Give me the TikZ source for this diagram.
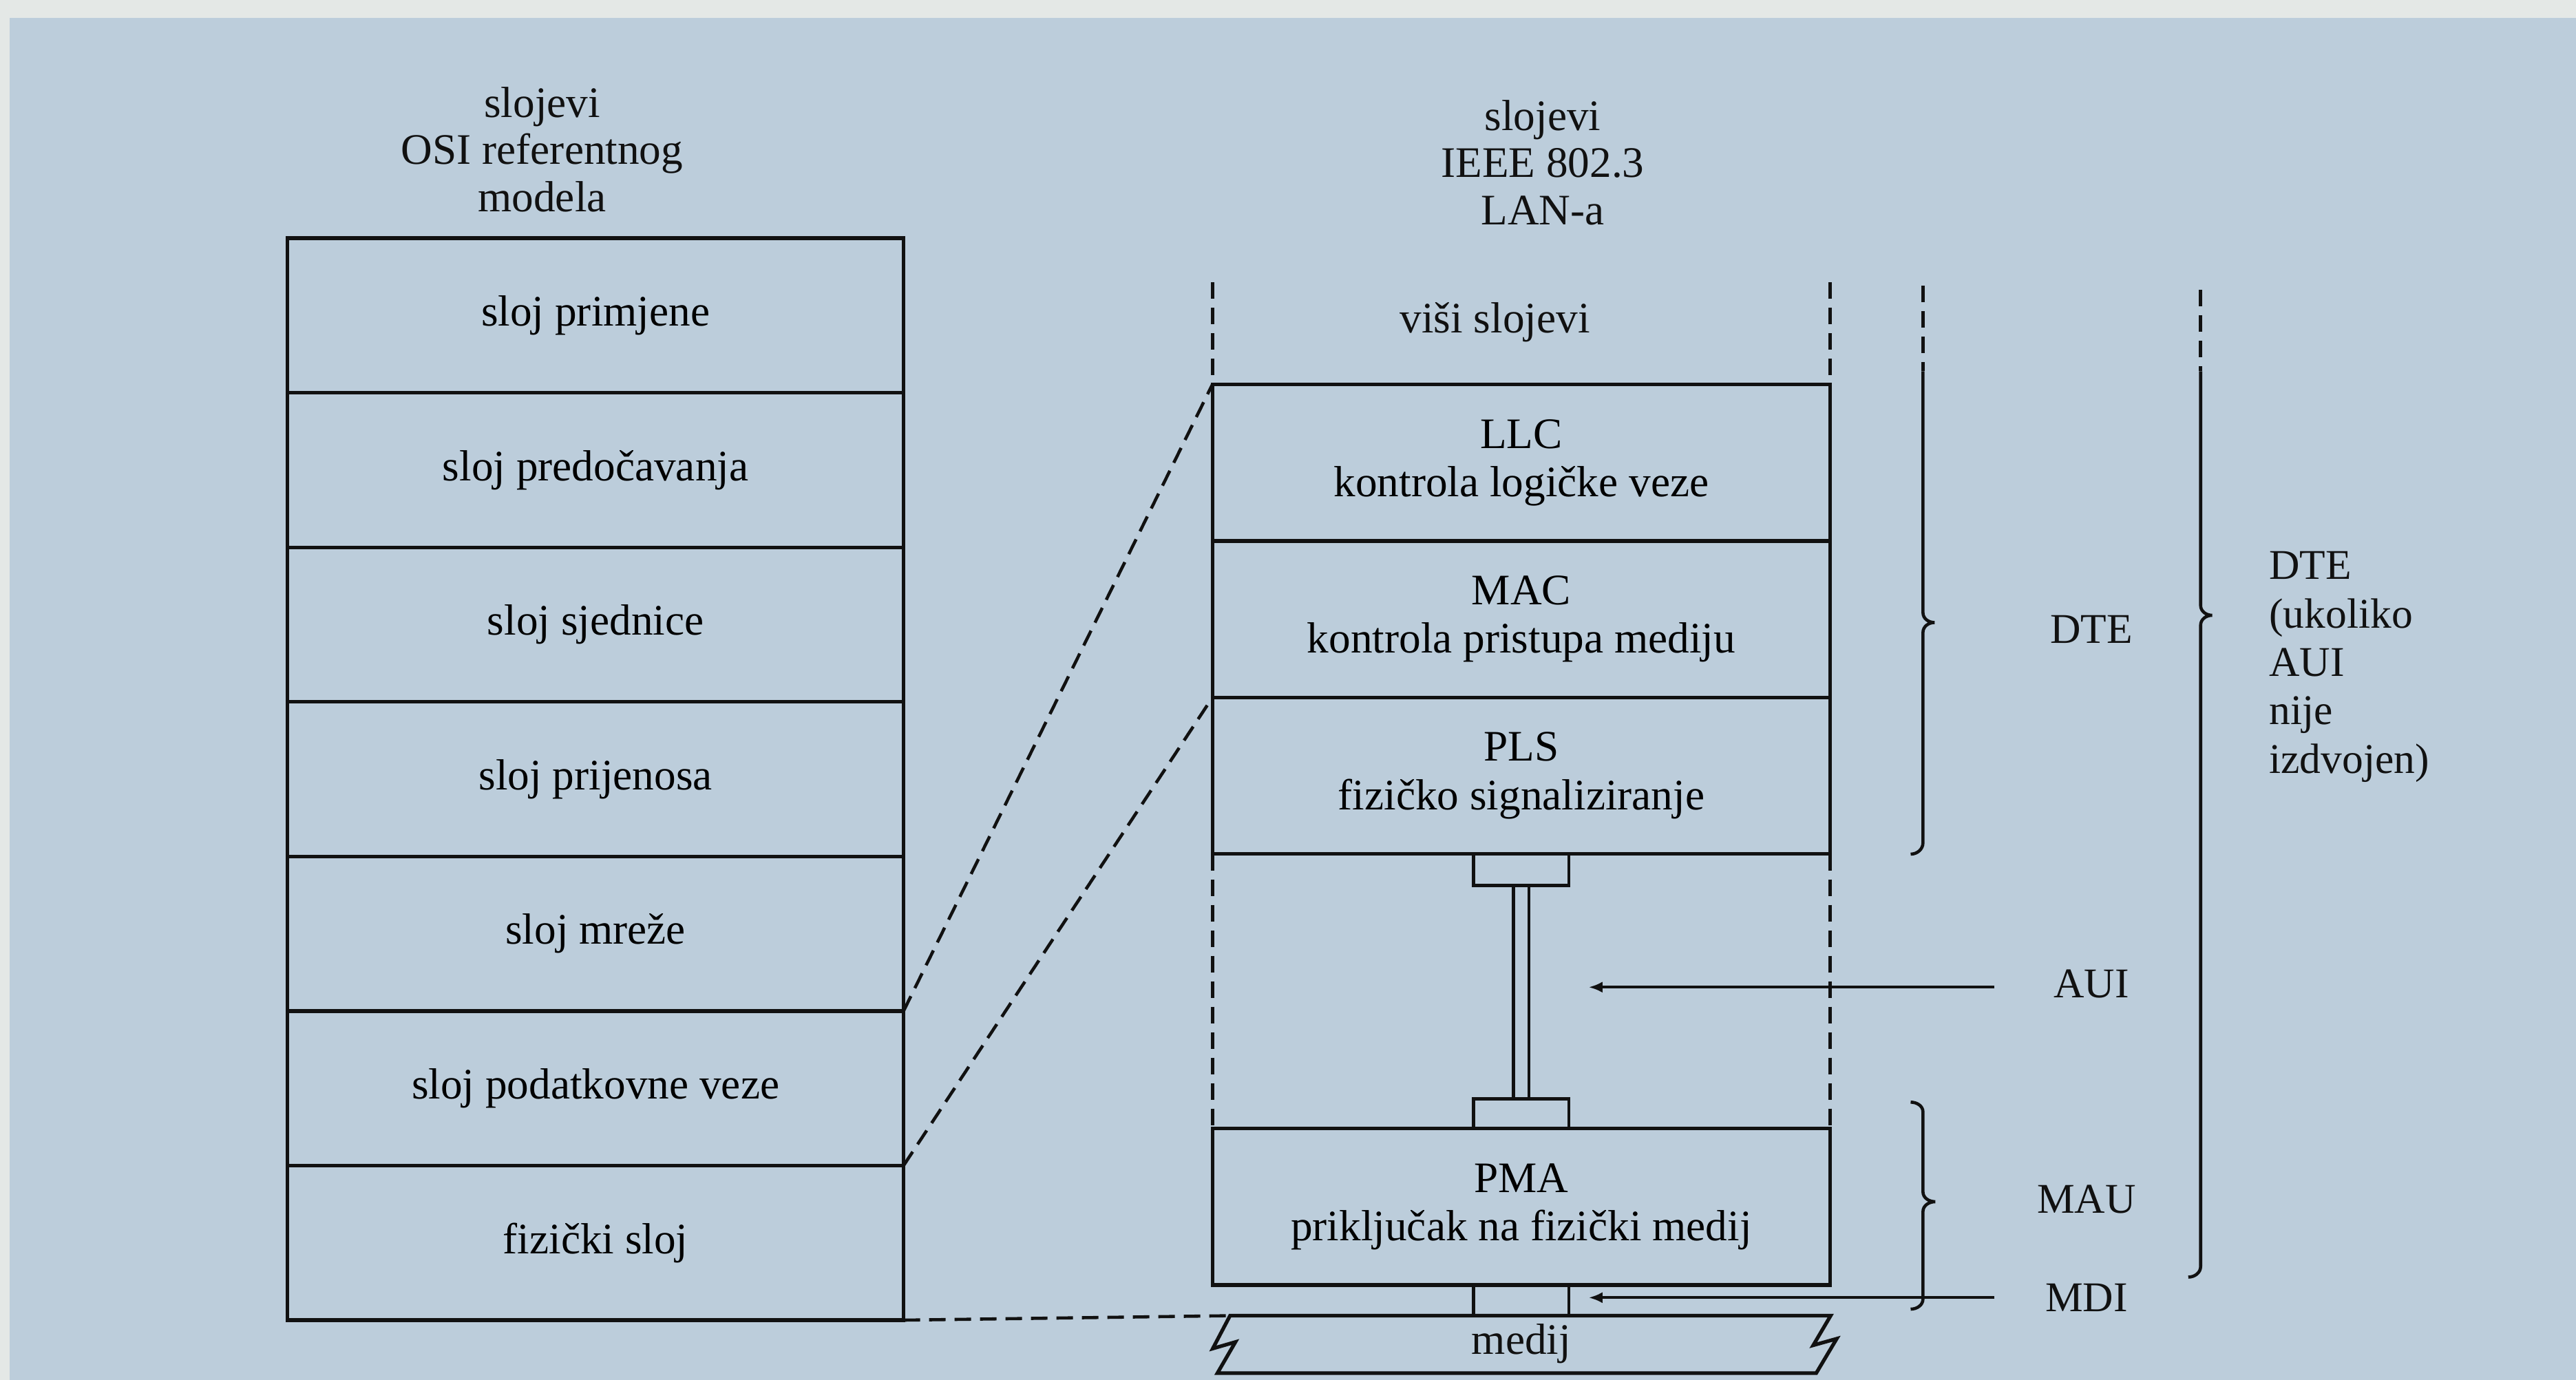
\documentclass[tikz,border=0pt]{standalone}
\usepackage{fontspec}
\setmainfont{Liberation Serif}
\usepackage{tikz}
\usetikzlibrary{arrows.meta,calc,positioning}
\definecolor{ScanBlue}{HTML}{BCCDDB}
\definecolor{ScanEdge}{HTML}{E4E8E6}
\definecolor{Ink}{HTML}{111111}
\newcommand{\unitpx}{0.23865mm}

\begin{document}
\begin{tikzpicture}[x=0.23865mm,y=-0.23865mm,
    osilayer/.style={draw=Ink,line width=1.5pt,rectangle,inner sep=0pt,outer sep=0pt,anchor=north west,
      minimum width=375*\unitpx,minimum height=94.1*\unitpx,font=\fontsize{18}{20}\selectfont},
    ieeelayer/.style={draw=Ink,line width=1.5pt,rectangle,inner sep=0pt,outer sep=0pt,anchor=north west,align=center,
      minimum width=376*\unitpx,minimum height=95.3*\unitpx,font=\fontsize{18}{20}\selectfont},
    plugbox/.style={draw=Ink,line width=1.3pt,rectangle,inner sep=0pt,outer sep=0pt,minimum width=58*\unitpx},
    plugline/.style={draw=Ink,line width=1.3pt},
    dashline/.style={draw=Ink,line width=1.3pt,dash pattern=on 2.4mm off 1.3mm},
    arrowline/.style={draw=Ink,line width=1.1pt,-{Latex[length=2mm,width=1.6mm]}},
    bracestyle/.style={draw=Ink,line width=1.3pt},
    titletext/.style={align=center,inner sep=0pt,text=Ink,font=\fontsize{18}{19.5}\selectfont},
    sidelabel/.style={inner sep=0pt,text=Ink,font=\fontsize{17.5}{20}\selectfont}]
  \useasboundingbox (0,0) rectangle (1568,840);
  \fill[ScanBlue] (0,0) rectangle (1568,840);
  \fill[ScanEdge] (0,0) rectangle (1568,11);
  \fill[ScanEdge] (0,0) rectangle (6,840);

  \node[titletext] (osititle) at (330,91) {slojevi\\OSI referentnog\\modela};
  \node[titletext] (ieeetitle) at (939,99) {slojevi\\IEEE 802.3\\LAN-a};
  \node[titletext] (upper) at (910,196) {viši slojevi};

  \foreach \nm/\txt [count=\i from 0] in {app/sloj primjene,pres/sloj predočavanja,sess/sloj sjednice,trans/sloj prijenosa,net/sloj mreže,link/sloj podatkovne veze,phys/fizički sloj}
    \node[osilayer] (\nm) at (175,{145+\i*94.1}) {\txt};

  \foreach \nm/\abbr/\txt [count=\i from 0] in {llc/LLC/kontrola logičke veze,mac/MAC/kontrola pristupa mediju,pls/PLS/fizičko signaliziranje}
    \node[ieeelayer] (\nm) at (738,{234+\i*95.3}) {\abbr\\\txt};
  \node[ieeelayer] (pma) at (738,687) {PMA\\priključak na fizički medij};

  \node[plugbox,minimum height=19*\unitpx] (plugup) at (926,529.5) {};
  \node[plugbox,minimum height=18*\unitpx] (plugdown) at (926,678) {};
  \draw[plugline] ([xshift=-1.12mm]plugup.south) -- ([xshift=-1.12mm]plugdown.north);
  \draw[plugline] ([xshift=1.12mm]plugup.south) -- ([xshift=1.12mm]plugdown.north);

  \coordinate (medtl) at (748.7,801);
  \draw[draw=Ink,line width=1.5pt,line join=miter] (medtl) -- (1114.3,801) -- (1103.7,819) -- (1118,815) -- (1105.5,836)
    -- (741,836) -- (752,817) -- (738.2,821) -- cycle;
  \node[sidelabel,font=\fontsize{18}{20}\selectfont] (medium) at (926,818) {medij};
  \draw[plugline] (plugup.west |- pma.south) -- (plugup.west |- medtl);
  \draw[plugline] (plugup.east |- pma.south) -- (plugup.east |- medtl);

  \coordinate (ltop) at (738,172);
  \coordinate (rtop) at (1114,172);
  \draw[dashline] (ltop) -- (llc.north west);
  \draw[dashline] (rtop) -- (llc.north east);
  \draw[dashline] (pls.south west) -- (pma.north west);
  \draw[dashline] (pls.south east) -- (pma.north east);
  \draw[dashline] (link.north east) -- (llc.north west);
  \draw[dashline] (phys.north east) -- (pls.north west);
  \draw[dashline] (phys.south east) -- (medtl);

  \coordinate (auistart) at (1214,601);
  \coordinate (auitip) at (967,601);
  \coordinate (mdistart) at (1214,790);
  \coordinate (mditip) at (967,790);
  \draw[arrowline] (auistart) -- (auitip);
  \draw[arrowline] (mdistart) -- (mditip);

  \draw[dashline] (1170.5,174) -- (1170.5,226);
  \draw[bracestyle] (1170.5,226) -- (1170.5,373) to[out=-90,in=180] (1177.5,379) to[out=180,in=90] (1170.5,385)
    -- (1170.5,513) to[out=-90,in=0] (1163,520);
  \draw[dashline] (1339.5,176.5) -- (1339.5,226);
  \draw[bracestyle] (1339.5,226) -- (1339.5,368.6) to[out=-90,in=180] (1346.5,374.6) to[out=180,in=90] (1339.5,380.6)
    -- (1339.5,771) to[out=-90,in=0] (1332,777.5);
  \draw[bracestyle] (1163,671) to[out=0,in=90] (1170.5,677) -- (1170.5,725.6) to[out=-90,in=180] (1178,731.6)
    to[out=180,in=90] (1170.5,737.6) -- (1170.5,790.8) to[out=-90,in=0] (1163,797);

  \node[sidelabel] (dtelabel) at (1273,383) {DTE};
  \node[sidelabel] (auilabel) at (1273,599) {AUI};
  \node[sidelabel] (maulabel) at (1270,730) {MAU};
  \node[sidelabel] (mdilabel) at (1270,790) {MDI};
  \node[sidelabel,anchor=west,align=left] (dtenote) at (1381,406) {DTE\\(ukoliko\\AUI\\nije\\izdvojen)};
\end{tikzpicture}
\end{document}
